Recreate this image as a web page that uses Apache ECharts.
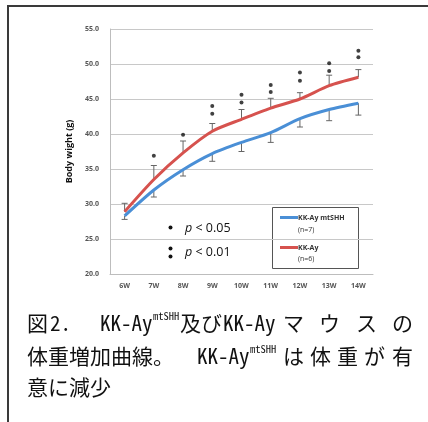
<!DOCTYPE html>
<html>
<head>
<meta charset="utf-8">
<script src="https://cdn.jsdelivr.net/npm/echarts@6/dist/echarts.min.js"></script>
<style>
  html, body { margin: 0; padding: 0; background: #fff; }
  #main { width: 428px; height: 422px; }
</style>
</head>
<body>
<div id="main"></div>
<script>
// weeks of age
const weeks = ['6W', '7W', '8W', '9W', '10W', '11W', '12W', '13W', '14W'];

// mean body weight (g)
const kkAy = [28.9, 33.5, 37.3, 40.4, 42.1, 43.7, 45.0, 46.9, 48.1];
const kkAyMt = [28.3, 32.0, 34.9, 37.2, 38.8, 40.2, 42.2, 43.5, 44.4];

// SD, drawn upward for KK-Ay and downward for KK-Ay mtSHH
const kkAyErr = [1.2, 2.0, 1.7, 1.1, 1.4, 1.4, 0.9, 1.5, 1.1];
const kkAyMtErr = [0.5, 1.0, 0.9, 1.1, 1.3, 1.4, 1.2, 1.6, 1.7];

// significance marks (y value of each dot, null = none)
const starLow = [null, 36.9, 39.9, 42.9, 44.5, 46.0, 47.6, 49.0, 50.95];
const starHigh = [null, null, null, 44.0, 45.6, 47.0, 48.8, 50.1, 51.9];

const yTicks = { min: 20, max: 55, interval: 5 };

const RED = '#d6524e';
const BLUE = '#4a8fd6';
const LABEL_FONT = '"Open Sans", "Liberation Sans", sans-serif';
const CAP_FONT = '"Noto Sans Mono CJK JP", "Noto Sans CJK JP", sans-serif';

function errorSeries(means, errs, dir) {
  return {
    type: 'custom',
    silent: true,
    z: 3,
    data: means.map((m, i) => [i, m, m + dir * errs[i]]),
    renderItem(params, api) {
      const a = api.coord([api.value(0), api.value(1)]);
      const b = api.coord([api.value(0), api.value(2)]);
      const style = { stroke: '#666', lineWidth: 1 };
      return {
        type: 'group',
        children: [
          { type: 'line', shape: { x1: a[0], y1: a[1], x2: b[0], y2: b[1] }, style },
          { type: 'line', shape: { x1: b[0] - 3, y1: b[1], x2: b[0] + 3, y2: b[1] }, style }
        ]
      };
    }
  };
}

const starData = [];
weeks.forEach((w, i) => {
  if (starLow[i] != null) starData.push([i, starLow[i]]);
  if (starHigh[i] != null) starData.push([i, starHigh[i]]);
});

// caption pieces (justified lines): [text, x, y, fontSize]
const caption = [
  ['図', 27, 323, 21], ['2.', 50, 323, 21], ['KK-Ay', 100, 323, 21],
  ['mtSHH', 153, 316, 10.5], ['及び', 180, 323, 21], ['KK-Ay', 223, 323, 21],
  ['マ', 283, 323, 21], ['ウ', 319, 323, 21], ['ス', 356, 323, 21], ['の', 392, 323, 21],
  ['体重増加曲線。', 27, 356, 21], ['KK-Ay', 197, 356, 21], ['mtSHH', 250, 349, 10.5],
  ['は', 283, 356, 21], ['体', 310, 356, 21], ['重', 337, 356, 21],
  ['が', 364, 356, 21], ['有', 392, 356, 21],
  ['意に減少', 27, 387, 21]
];

const graphics = [
  {
    type: 'polyline', silent: true,
    shape: { points: [[8, 440], [8, 6], [440, 6]] },
    style: { fill: 'none', stroke: '#3a3a3a', lineWidth: 2 }
  },
  // p-value key
  { type: 'circle', shape: { cx: 170.5, cy: 227.5, r: 2 }, style: { fill: '#111' } },
  { type: 'circle', shape: { cx: 170.5, cy: 248.5, r: 2 }, style: { fill: '#111' } },
  { type: 'circle', shape: { cx: 170.5, cy: 256.5, r: 2 }, style: { fill: '#111' } },
  {
    type: 'text', x: 185, y: 228,
    style: {
      text: '{i|p} < 0.05', fill: '#111', font: '12.5px ' + LABEL_FONT, verticalAlign: 'middle',
      rich: { i: { fontStyle: 'italic', fontSize: 12.5, fontFamily: LABEL_FONT } }
    }
  },
  {
    type: 'text', x: 185, y: 252,
    style: {
      text: '{i|p} < 0.01', fill: '#111', font: '12.5px ' + LABEL_FONT, verticalAlign: 'middle',
      rich: { i: { fontStyle: 'italic', fontSize: 12.5, fontFamily: LABEL_FONT } }
    }
  },
  // legend box
  {
    type: 'rect', shape: { x: 272.5, y: 207.5, width: 86, height: 61 },
    style: { fill: '#fff', stroke: '#555', lineWidth: 1 }
  },
  { type: 'line', shape: { x1: 280, y1: 217.5, x2: 298, y2: 217.5 }, style: { stroke: BLUE, lineWidth: 3 } },
  { type: 'line', shape: { x1: 280, y1: 247.5, x2: 298, y2: 247.5 }, style: { stroke: RED, lineWidth: 3 } },
  { type: 'text', x: 298, y: 217.5, style: { text: 'KK-Ay mtSHH', fill: '#333', font: 'bold 7px ' + LABEL_FONT, verticalAlign: 'middle' } },
  { type: 'text', x: 298, y: 230, style: { text: '(n=7)', fill: '#333', font: '7px ' + LABEL_FONT, verticalAlign: 'middle' } },
  { type: 'text', x: 298, y: 247.5, style: { text: 'KK-Ay', fill: '#333', font: 'bold 7px ' + LABEL_FONT, verticalAlign: 'middle' } },
  { type: 'text', x: 298, y: 258.5, style: { text: '(n=6)', fill: '#333', font: '7px ' + LABEL_FONT, verticalAlign: 'middle' } }
];

caption.forEach(([t, x, y, fs]) => {
  graphics.push({
    type: 'text', x, y,
    style: { text: t, fill: '#111', font: fs + 'px ' + CAP_FONT, verticalAlign: 'middle' }
  });
});

var myChart = echarts.init(document.getElementById('main'), null, { renderer: 'canvas' });
myChart.setOption({
  animation: false,
  backgroundColor: '#fff',
  grid: { left: 110, top: 29, right: 55, bottom: 148 },
  xAxis: {
    type: 'category',
    data: weeks,
    boundaryGap: true,
    axisLine: { lineStyle: { color: '#bdbdbd' } },
    axisTick: { show: false },
    axisLabel: { color: '#555', fontSize: 7, fontFamily: LABEL_FONT, fontWeight: 'bold', margin: 8 }
  },
  yAxis: {
    type: 'value',
    min: yTicks.min,
    max: yTicks.max,
    interval: yTicks.interval,
    name: 'Body wight (g)',
    nameLocation: 'middle',
    nameRotate: 90,
    nameGap: 25,
    nameTextStyle: { color: '#111', fontSize: 9, fontWeight: 'bold', fontFamily: LABEL_FONT },
    axisLine: { show: true, lineStyle: { color: '#bdbdbd' } },
    axisTick: { show: false },
    splitLine: { lineStyle: { color: '#c8c8c8' } },
    axisLabel: {
      color: '#555', fontSize: 7, fontFamily: LABEL_FONT, fontWeight: 'bold', margin: 11,
      formatter: v => v.toFixed(1)
    }
  },
  series: [
    {
      name: 'KK-Ay mtSHH', type: 'line', data: kkAyMt, smooth: 0.25,
      showSymbol: false, lineStyle: { color: BLUE, width: 3 }, z: 4
    },
    {
      name: 'KK-Ay', type: 'line', data: kkAy, smooth: 0.25,
      showSymbol: false, lineStyle: { color: RED, width: 3 }, z: 4
    },
    errorSeries(kkAy, kkAyErr, 1),
    errorSeries(kkAyMt, kkAyMtErr, -1),
    {
      type: 'scatter', data: starData, symbol: 'circle', symbolSize: 4,
      itemStyle: { color: '#111' }, silent: true, z: 5
    }
  ],
  graphic: graphics
});
</script>
</body>
</html>
